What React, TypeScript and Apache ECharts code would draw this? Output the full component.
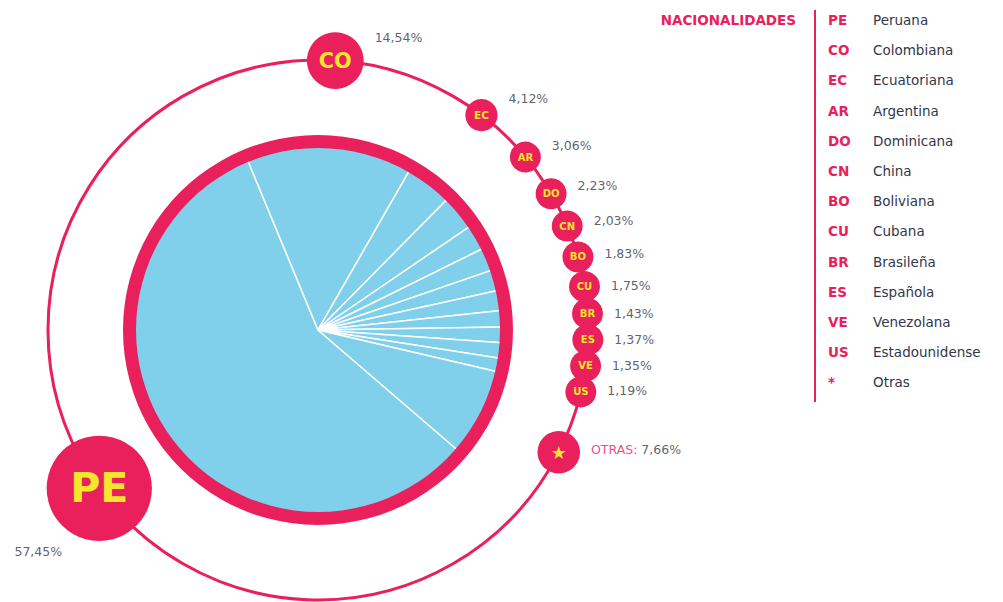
import React, { useEffect, useRef } from 'react';
import * as echarts from 'echarts';

// ---- data ----
const codes = ['PE', 'CO', 'EC', 'AR', 'DO', 'CN', 'BO', 'CU', 'BR', 'ES', 'VE', 'US', '*'];
const nationalities = ['Peruana', 'Colombiana', 'Ecuatoriana', 'Argentina', 'Dominicana', 'China', 'Boliviana', 'Cubana', 'Brasileña', 'Española', 'Venezolana', 'Estadounidense', 'Otras'];
const shares = [57.45, 14.54, 4.12, 3.06, 2.23, 2.03, 1.83, 1.75, 1.43, 1.37, 1.35, 1.19, 7.66];
const legendTitle = 'NACIONALIDADES';
const othersLabel = 'OTRAS:';

// ---- style ----
const PINK = '#e9205c';
const YELLOW = '#f3e62c';
const BLUE = '#80d0ec';
const TEXT = '#33374a';
const FONT = '"DejaVu Sans", "Open Sans", sans-serif';

const CX = 318;
const CY = 330;
const PIE_R = 184;
const RING_IN = 182;
const RING_R = 195;
const ORBIT_R = 270;
const START = 319.3; // where the first slice begins (echarts degrees)

function fmt(v: number) {
  return v.toFixed(2).replace('.', ',') + '%';
}
function bubbleSize(v: number) {
  return Math.max(31, 17 * Math.pow(v, 0.45));
}

export default function App() {
  const ref = useRef<HTMLDivElement>(null);
  useEffect(() => {
    document.body.style.margin = '0';
    const chart = echarts.init(ref.current!, null, { renderer: 'svg' });
    const total = shares.reduce((a, b) => a + b, 0);
    let cum = 0;
    const mids = shares.map((v) => {
      const m = cum + v / 2;
      cum += v;
      return m;
    });
    const sizes = shares.map(bubbleSize);
    const pos = mids.slice();
    const circ = 2 * Math.PI * ORBIT_R;
    for (let i = 2; i < pos.length; i++) {
      const need = ((0.85 * (sizes[i - 1] + sizes[i])) / 2 / circ) * total;
      if (pos[i] - pos[i - 1] < need) pos[i] = pos[i - 1] + need;
    }
    const clockAngle = (p: number) => (((90 - START) + (p / total) * 360) % 360 + 360) % 360;

    const bubbleData = shares.map((v, i) => ({
      value: [1, pos[i]],
      symbolSize: sizes[i],
      label: {
        show: true,
        position: 'inside',
        formatter: codes[i] === '*' ? '★' : codes[i],
        color: YELLOW,
        fontFamily: FONT,
        fontWeight: 'bold',
        fontSize: codes[i] === '*' ? sizes[i] * 0.42 : Math.max(9, sizes[i] * 0.42 - 3),
      },
    }));

    const labelData = shares.map((v, i) => {
      const a = clockAngle(pos[i]);
      const rad = (a * Math.PI) / 180;
      const right = a < 180;
      return {
        value: [1, pos[i]],
        symbolSize: sizes[i],
        label: right
          ? { position: 'right', distance: 11, offset: [0, -23 * Math.pow(Math.max(0, Math.cos(rad)), 1.5) + 6 * Math.min(0, Math.cos(rad))] }
          : { position: 'bottom', distance: 4, offset: [-0.58 * sizes[i], 0] },
      };
    });

    const legendGraphics: any[] = [
      {
        type: 'text',
        x: 796,
        y: 20,
        style: {
          text: legendTitle,
          fill: PINK,
          font: `bold 13.5px ${FONT}`,
          align: 'right',
          verticalAlign: 'middle',
        },
      },
      {
        type: 'line',
        shape: { x1: 815, y1: 10, x2: 815, y2: 402 },
        style: { stroke: PINK, lineWidth: 2 },
      },
    ];
    codes.forEach((c, i) => {
      const y = 20 + i * 30.2;
      legendGraphics.push({
        type: 'text',
        x: 828,
        y,
        style: { text: c, fill: PINK, font: `bold 13.5px ${FONT}`, verticalAlign: 'middle' },
      });
      legendGraphics.push({
        type: 'text',
        x: 873,
        y,
        style: { text: nationalities[i], fill: TEXT, font: `13.5px ${FONT}`, verticalAlign: 'middle' },
      });
    });

    chart.setOption({
      animation: false,
      backgroundColor: '#ffffff',
      polar: { center: [CX, CY], radius: ORBIT_R },
      angleAxis: {
        type: 'value',
        min: 0,
        max: total,
        startAngle: START,
        clockwise: true,
        axisLine: { show: true, lineStyle: { color: PINK, width: 3 } },
        axisTick: { show: false },
        axisLabel: { show: false },
        splitLine: { show: false },
      },
      radiusAxis: {
        type: 'value',
        min: 0,
        max: 1,
        axisLine: { show: false },
        axisTick: { show: false },
        axisLabel: { show: false },
        splitLine: { show: false },
      },
      series: [
        {
          type: 'pie',
          silent: true,
          center: [CX, CY],
          radius: [0, PIE_R],
          startAngle: START,
          clockwise: true,
          label: { show: false },
          labelLine: { show: false },
          itemStyle: { color: BLUE, borderColor: '#ffffff', borderWidth: 1.5 },
          data: codes.map((c, i) => ({ name: c, value: shares[i] })),
          z: 2,
        },
        {
          type: 'pie',
          silent: true,
          center: [CX, CY],
          radius: [RING_IN, RING_R],
          label: { show: false },
          labelLine: { show: false },
          itemStyle: { color: PINK, borderWidth: 0 },
          data: [{ name: 'ring', value: 1 }],
          z: 3,
        },
        {
          type: 'scatter',
          coordinateSystem: 'polar',
          silent: true,
          symbol: 'circle',
          itemStyle: { color: 'rgba(0,0,0,0)' },
          label: {
            show: true,
            fontFamily: FONT,
            fontSize: 12.5,
            color: TEXT,
            formatter: (p: any) =>
              codes[p.dataIndex] === '*'
                ? `{o|${othersLabel}} {v|${fmt(shares[p.dataIndex])}}`
                : `{v|${fmt(shares[p.dataIndex])}}`,
            rich: {
              o: { color: PINK, fontFamily: FONT, fontSize: 12.5 },
              v: { color: TEXT, fontFamily: FONT, fontSize: 12.5 },
            },
          },
          data: labelData,
          z: 4,
        },
        {
          type: 'scatter',
          coordinateSystem: 'polar',
          silent: true,
          symbol: 'circle',
          itemStyle: { color: PINK, opacity: 1 },
          data: bubbleData,
          z: 5,
        },
      ],
      graphic: { elements: legendGraphics },
    });
    return () => chart.dispose();
  }, []);
  return <div ref={ref} style={{ width: 1003, height: 602 }} />;
}
